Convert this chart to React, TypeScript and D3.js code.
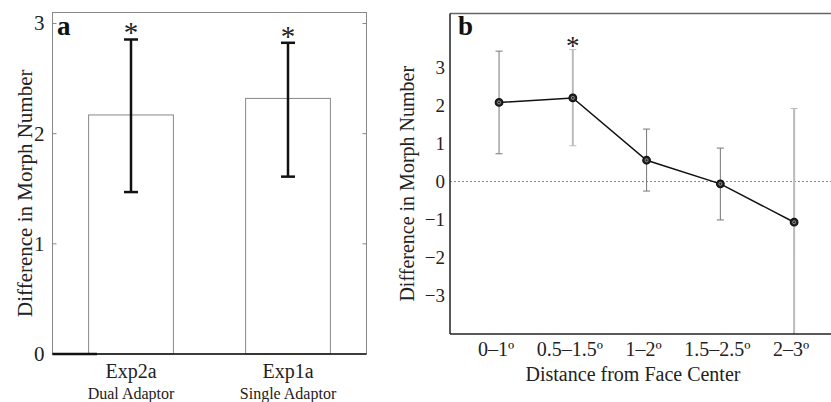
import React from 'react'
import * as d3 from 'd3';

// panel a
const expNames = ["Exp2a", "Exp1a"];
const expSub = ["Dual Adaptor", "Single Adaptor"];
const expMean = [2.17, 2.32];
const expLow = [1.47, 1.61];
const expHigh = [2.855, 2.825];
const aTicks = [0, 1, 2, 3];

// panel b
const distNames = ["0\u20131\u00ba", "0.5\u20131.5\u00ba", "1\u20132\u00ba", "1.5\u20132.5\u00ba", "2\u20133\u00ba"];
const distMean = [2.08, 2.2, 0.56, -0.06, -1.07];
const distLow = [0.73, 0.94, -0.25, -1.01, -4.06];
const distHigh = [3.43, 3.47, 1.38, 0.88, 1.92];
const distSig = [false, true, false, false, false];
const barTone = ["#777", "#bbb", "#777", "#777", "#bbb"];
const bTicks = [-3, -2, -1, 0, 1, 2, 3];

const font = "Liberation Serif";

function PanelA() {
  const left = 52.5, right = 366.5, top = 12.5, bottom = 354;
  const x = d3.scaleBand().domain(expNames).range([left, right]).paddingInner(0.46).paddingOuter(0.23);
  const y = d3.scaleLinear().domain([0, 3.1]).range([bottom, top]);

  return (
    <g fontFamily={font}>
      <rect x={left} y={top} width={right - left} height={bottom - top} fill="none" stroke="#888" strokeWidth={1} />
      {expNames.map((d, i) => (
        <rect key={d} x={x(d)} y={y(expMean[i])} width={x.bandwidth()} height={bottom - y(expMean[i])}
          fill="none" stroke="#888" strokeWidth={1} />
      ))}
      {aTicks.filter(t => t > 0).map(t => (
        <g key={t}>
          <line x1={left} x2={left + 4} y1={y(t)} y2={y(t)} stroke="#888" />
          <line x1={right} x2={right - 4} y1={y(t)} y2={y(t)} stroke="#888" />
        </g>
      ))}
      <line x1={left} x2={right} y1={bottom} y2={bottom} stroke="#111" strokeWidth={1.5} />
      <line x1={left} x2={97} y1={bottom} y2={bottom} stroke="#111" strokeWidth={2.5} />
      {aTicks.map(t => (
        <text key={t} x={left - 8} y={y(t)} dy="0.33em" textAnchor="end" fontSize={21} fill="#222">{t}</text>
      ))}
      {expNames.map((d, i) => {
        const cx = x(d)! + x.bandwidth() / 2;
        return (
          <g key={d}>
            <line x1={cx} x2={cx} y1={y(expLow[i])} y2={y(expHigh[i])} stroke="#111" strokeWidth={2.5} />
            <line x1={cx - 7} x2={cx + 7} y1={y(expLow[i])} y2={y(expLow[i])} stroke="#111" strokeWidth={2.5} />
            <line x1={cx - 7} x2={cx + 7} y1={y(expHigh[i])} y2={y(expHigh[i])} stroke="#111" strokeWidth={2.5} />
            <text x={cx} y={y(expHigh[i]) + 3} textAnchor="middle" fontSize={29} fill="#222">*</text>
            <text x={cx} y={378} textAnchor="middle" fontSize={20} fill="#222">{d}</text>
            <text x={cx} y={399} textAnchor="middle" fontSize={16} fill="#222">{expSub[i]}</text>
          </g>
        );
      })}
      <text x={57} y={35} fontSize={27} fontWeight="bold" fill="#111">a</text>
      <text transform={`translate(25,${(top + bottom) / 2 + 10}) rotate(-90)`} textAnchor="middle" dy="0.35em"
        fontSize={21} fill="#222">Difference in Morph Number</text>
    </g>
  );
}

function PanelB() {
  const left = 450, right = 831, top = 13.5, bottom = 334;
  const x = d3.scaleLinear().domain([0.335, 5.5]).range([left, right]);
  const y = d3.scaleLinear().domain([-4.01, 4.42]).range([bottom, top]);
  const line = d3.line<number>().x((_, i) => x(i + 1)).y(d => y(d));

  return (
    <g fontFamily={font}>
      <defs>
        <clipPath id="clipB">
          <rect x={left} y={top} width={right - left} height={bottom - top} />
        </clipPath>
      </defs>
      <line x1={left} x2={right} y1={top} y2={top} stroke="#666" strokeWidth={1.5} />
      <line x1={left} x2={right} y1={y(0)} y2={y(0)} stroke="#666" strokeWidth={0.8} strokeDasharray="2,2" />
      <g clipPath="url(#clipB)">
        {distMean.map((d, i) => {
          const cx = x(i + 1);
          const light = barTone[i] === "#bbb";
          return (
            <g key={i}>
              <line x1={cx} x2={cx} y1={y(distLow[i])} y2={y(distHigh[i])} stroke={barTone[i]} strokeWidth={light ? 2 : 1} />
              <line x1={cx - 3.5} x2={cx + 3.5} y1={y(distLow[i])} y2={y(distLow[i])} stroke={barTone[i]} strokeWidth={1} />
              <line x1={cx - 3.5} x2={cx + 3.5} y1={y(distHigh[i])} y2={y(distHigh[i])} stroke={barTone[i]} strokeWidth={1} />
            </g>
          );
        })}
      </g>
      <path d={line(distMean)!} fill="none" stroke="#111" strokeWidth={1.5} />
      {distMean.map((d, i) => (
        <g key={i}>
          <circle cx={x(i + 1)} cy={y(d)} r={3.8} fill="#222" stroke="#111" strokeWidth={1.2} />
          <circle cx={x(i + 1)} cy={y(d)} r={1.5} fill="none" stroke="#aaa" strokeWidth={0.8} />
        </g>
      ))}
      {distMean.map((d, i) => distSig[i] ? (
        <text key={i} x={x(i + 1)} y={y(distHigh[i]) + 5} textAnchor="middle" fontSize={27} fill="#222">*</text>
      ) : null)}
      <line x1={left} x2={left} y1={top} y2={bottom} stroke="#222" strokeWidth={1.5} />
      <line x1={left} x2={right} y1={bottom} y2={bottom} stroke="#222" strokeWidth={1.5} />
      {bTicks.map(t => (
        <text key={t} x={445} y={y(t)} dy="0.33em" textAnchor="end" fontSize={19} fill="#222">
          {t < 0 ? `\u2212${-t}` : t}
        </text>
      ))}
      {distNames.map((d, i) => (
        <text key={d} x={x(i + 1) - 3} y={356} textAnchor="middle" fontSize={20} fill="#222">{d}</text>
      ))}
      <text x={633} y={381} textAnchor="middle" fontSize={20} fill="#222">Distance from Face Center</text>
      <text x={458} y={35} fontSize={27} fontWeight="bold" fill="#111">b</text>
      <text transform={`translate(407,${(top + bottom) / 2 + 10}) rotate(-90)`} textAnchor="middle" dy="0.35em"
        fontSize={20} fill="#222">Difference in Morph Number</text>
    </g>
  );
}

export default function App() {
  return (
    <svg width={831} height={402} style={{ position: 'absolute', left: 0, top: 0, background: '#fff' }}>
      <rect width={831} height={402} fill="#fff" />
      <PanelA />
      <PanelB />
    </svg>
  );
}
